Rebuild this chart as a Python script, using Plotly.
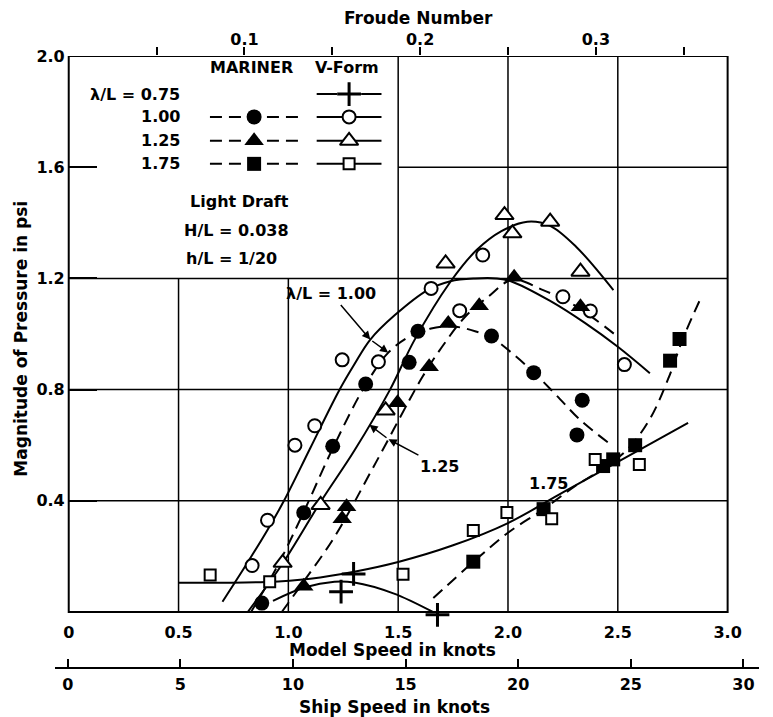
import numpy as np
import plotly.graph_objects as go

# ---------------- measured points: model speed (knots) vs pressure (psi) ----------------
# V-Form, lambda/L = 0.75
vform_075_speed = [1.24, 1.297, 1.679]
vform_075_psi = [0.073, 0.137, -0.01]

# MARINER / V-Form, lambda/L = 1.00
mariner_100_speed = [0.879, 1.07, 1.202, 1.352, 1.55, 1.59, 1.925, 2.117, 2.314, 2.338]
mariner_100_psi = [0.032, 0.357, 0.596, 0.82, 0.898, 1.01, 0.993, 0.861, 0.637, 0.762]
vform_100_speed = [0.835, 0.905, 1.03, 1.12, 1.245, 1.41, 1.65, 1.78, 1.885, 2.25, 2.375, 2.53]
vform_100_psi = [0.167, 0.33, 0.60, 0.67, 0.907, 0.90, 1.164, 1.084, 1.284, 1.134, 1.083, 0.89]

# MARINER / V-Form, lambda/L = 1.25
mariner_125_speed = [1.07, 1.245, 1.265, 1.497, 1.641, 1.728, 1.869, 2.028, 2.33]
mariner_125_psi = [0.093, 0.335, 0.379, 0.753, 0.882, 1.038, 1.102, 1.204, 1.098]
vform_125_speed = [0.974, 1.147, 1.443, 1.716, 1.984, 2.02, 2.192, 2.33]
vform_125_psi = [0.177, 0.385, 0.725, 1.254, 1.428, 1.362, 1.404, 1.224]

# MARINER / V-Form, lambda/L = 1.75
mariner_175_speed = [1.842, 2.162, 2.433, 2.479, 2.579, 2.738, 2.781]
mariner_175_psi = [0.181, 0.37, 0.525, 0.549, 0.60, 0.904, 0.982]
vform_175_speed = [0.644, 0.915, 1.522, 1.842, 1.995, 2.199, 2.397, 2.598]
vform_175_psi = [0.133, 0.109, 0.136, 0.293, 0.358, 0.335, 0.549, 0.531]

# ---------------- faired curves ----------------
fair_v075_speed = [0.93, 1.076, 1.21, 1.30, 1.478, 1.656]
fair_v075_psi = [0.04, 0.089, 0.109, 0.106, 0.067, 0.001]

fair_v100_speed = [0.70, 0.80, 0.905, 0.98, 1.10, 1.23, 1.30, 1.373, 1.485, 1.634, 1.738,
                   1.85, 1.95, 2.013, 2.19, 2.35, 2.50, 2.646]
fair_v100_psi = [0.037, 0.16, 0.295, 0.40, 0.59, 0.795, 0.89, 0.98, 1.068, 1.158, 1.19,
                 1.20, 1.20, 1.19, 1.12, 1.04, 0.954, 0.859]
fair_m100_speed = [0.83, 0.95, 1.07, 1.20, 1.35, 1.455, 1.55, 1.65, 1.75, 1.85, 1.93, 2.02,
                   2.12, 2.22, 2.33, 2.46]
fair_m100_psi = [0.0, 0.165, 0.36, 0.585, 0.815, 0.933, 0.99, 1.02, 1.027, 1.01, 0.985, 0.93,
                 0.86, 0.78, 0.69, 0.607]

fair_v125_speed = [0.815, 0.97, 1.15, 1.30, 1.463, 1.574, 1.738, 1.857, 1.97, 2.088, 2.19,
                   2.31, 2.48]
fair_v125_psi = [0.0, 0.17, 0.40, 0.58, 0.80, 0.978, 1.188, 1.302, 1.37, 1.404, 1.39,
                 1.314, 1.158]
fair_m125_speed = [0.97, 1.07, 1.21, 1.40, 1.61, 1.70, 1.805, 1.91, 2.02, 2.16, 2.31, 2.50]
fair_m125_psi = [0.0, 0.11, 0.27, 0.54, 0.845, 0.954, 1.062, 1.134, 1.195, 1.158, 1.10, 0.99]

fair_v175_speed = [0.50, 0.90, 1.10, 1.30, 1.50, 1.75, 2.0, 2.25, 2.50, 2.82]
fair_v175_psi = [0.105, 0.108, 0.12, 0.145, 0.18, 0.24, 0.32, 0.43, 0.54, 0.68]
fair_m175_speed = [1.66, 1.842, 2.0, 2.162, 2.30, 2.45, 2.55, 2.65, 2.73, 2.80, 2.884]
fair_m175_psi = [0.05, 0.18, 0.285, 0.37, 0.45, 0.525, 0.59, 0.70, 0.84, 0.99, 1.14]

# ---------------- axes ----------------
model_ticks = [0, 0.5, 1.0, 1.5, 2.0, 2.5, 3.0]
model_labels = ["0", "0.5", "1.0", "1.5", "2.0", "2.5", "3.0"]
psi_ticks = [0.4, 0.8, 1.2, 1.6, 2.0]
psi_labels = ["0.4", "0.8", "1.2", "1.6", "2.0"]
froude_ticks = [0.05, 0.10, 0.15, 0.20, 0.25, 0.30, 0.35]
froude_labels = ["", "0.1", "", "0.2", "", "0.3", ""]
ship_ticks = [0, 5, 10, 15, 20, 25, 30]
ship_labels = ["0", "5", "10", "15", "20", "25", "30"]

legend_rows = ["0.75", "1.00", "1.25", "1.75"]

FONT = "DejaVu Sans"
INK = "black"
DASH = "12px,7px"

W, H = 773, 717
M_L, M_R, M_T, M_B = 55, 0, 56, 49
PSI_RANGE = [-0.02, 2.0]          # a little room below zero for the lowest point
X_DOMAIN = [14 / 718, 686 / 718]
Y_DOMAIN = [(56 - 0.02 * 278) / 612, 1.0]

open_circle = dict(symbol="circle", size=13, color="white", line=dict(color=INK, width=2))
solid_circle = dict(symbol="circle", size=15, color=INK, line=dict(width=0))
open_tri = dict(symbol="triangle-up", size=16, color="white", line=dict(color=INK, width=2))
solid_tri = dict(symbol="triangle-up", size=17, color=INK, line=dict(width=0))
open_sq = dict(symbol="square", size=11, color="white", line=dict(color=INK, width=2))
solid_sq = dict(symbol="square", size=14, color=INK, line=dict(width=0))
cross = dict(symbol="cross-thin", size=17, color=INK, line=dict(color=INK, width=3))

fig = go.Figure()


def add_curve(xs, ys, dashed):
    fig.add_trace(go.Scatter(
        x=xs, y=ys, mode="lines",
        line=dict(color=INK, width=2, shape="spline", smoothing=1.0,
                  dash=DASH if dashed else "solid"),
        hoverinfo="skip", showlegend=False))


def add_points(xs, ys, marker):
    fig.add_trace(go.Scatter(
        x=xs, y=ys, mode="markers", marker=marker, cliponaxis=False,
        hoverinfo="skip", showlegend=False))


# faired curves
add_curve(fair_v075_speed, fair_v075_psi, False)
add_curve(fair_v100_speed, fair_v100_psi, False)
add_curve(fair_m100_speed, fair_m100_psi, True)
add_curve(fair_v125_speed, fair_v125_psi, False)
add_curve(fair_m125_speed, fair_m125_psi, True)
add_curve(fair_v175_speed, fair_v175_psi, False)
add_curve(fair_m175_speed, fair_m175_psi, True)

# measured points
add_points(vform_075_speed, vform_075_psi, cross)
add_points(mariner_100_speed, mariner_100_psi, solid_circle)
add_points(vform_100_speed, vform_100_psi, open_circle)
add_points(mariner_125_speed, mariner_125_psi, solid_tri)
add_points(vform_125_speed, vform_125_psi, open_tri)
add_points(mariner_175_speed, mariner_175_psi, solid_sq)
add_points(vform_175_speed, vform_175_psi, open_sq)

# ---------------- key block (upper left) ----------------
row_y = [1.863, 1.781, 1.695, 1.612]
mariner_span = (0.643, 1.045)
vform_span = (1.129, 1.424)
row_markers = {
    "0.75": (None, cross),
    "1.00": (solid_circle, open_circle),
    "1.25": (solid_tri, open_tri),
    "1.75": (solid_sq, open_sq),
}
for lab, yy in zip(legend_rows, row_y):
    m_mar, m_vf = row_markers[lab]
    mid_m = 0.5 * (mariner_span[0] + mariner_span[1])
    mid_v = 0.5 * (vform_span[0] + vform_span[1])
    if m_mar is not None:
        fig.add_trace(go.Scatter(x=list(mariner_span), y=[yy, yy], mode="lines",
                                 line=dict(color=INK, width=2, dash=DASH),
                                 hoverinfo="skip", showlegend=False))
        add_points([mid_m], [yy], m_mar)
    if lab == "0.75":
        for a, b in [(vform_span[0], mid_v - 0.055), (mid_v + 0.055, vform_span[1])]:
            fig.add_trace(go.Scatter(x=[a, b], y=[yy, yy], mode="lines",
                                     line=dict(color=INK, width=2),
                                     hoverinfo="skip", showlegend=False))
    else:
        fig.add_trace(go.Scatter(x=list(vform_span), y=[yy, yy], mode="lines",
                                 line=dict(color=INK, width=2),
                                 hoverinfo="skip", showlegend=False))
    add_points([mid_v], [yy], m_vf)

# dummy traces so that the Froude and ship-speed axes are drawn
fig.add_trace(go.Scatter(x=[froude_ticks[0]], y=[0], xaxis="x2", yaxis="y", mode="markers",
                         marker=dict(opacity=0), hoverinfo="skip", showlegend=False))
fig.add_trace(go.Scatter(x=[ship_ticks[0]], y=[0], xaxis="x3", yaxis="y", mode="markers",
                         marker=dict(opacity=0), hoverinfo="skip", showlegend=False))

# ---------------- grid (left upper panel kept clear for the key) ----------------
shapes = []
for gx in model_ticks[1:-1]:
    top = 1.2 if gx < 1.5 else 2.0
    shapes.append(dict(type="line", xref="x", yref="y", x0=gx, x1=gx, y0=0, y1=top,
                       line=dict(color=INK, width=1.5), layer="below"))
for gy in psi_ticks[:-1]:
    left = 1.5 if gy > 1.2 else 0.0
    shapes.append(dict(type="line", xref="x", yref="y", x0=left, x1=3.0, y0=gy, y1=gy,
                       line=dict(color=INK, width=1.5), layer="below"))
# frame of the plotting area, from zero to the top of the scale
shapes.append(dict(type="rect", xref="x domain", yref="y", x0=0, x1=1, y0=0, y1=2.0,
                   line=dict(color=INK, width=2), fillcolor="rgba(0,0,0,0)"))


def txt(text, x, y, size=16, xanchor="center", xref="x", yref="y", angle=0):
    return dict(text=text, x=x, y=y, xref=xref, yref=yref, showarrow=False,
                xanchor=xanchor, yanchor="middle", textangle=angle,
                font=dict(family=FONT, size=size, color=INK, weight="bold"))


annotations = [
    txt("MARINER", 0.830, 1.957),
    txt("V-Form", 1.268, 1.957),
    txt("Light Draft", 0.777, 1.475),
    txt("H/L = 0.038", 0.763, 1.371),
    txt("h/L = 1/20", 0.741, 1.273),
    txt("1.75", 2.183, 0.464),
]
for lab, yy in zip(legend_rows, row_y):
    annotations.append(txt(("λ/L = " if lab == "0.75" else "") + lab, 0.518, yy, xanchor="right"))


# leaders from the curve labels, arrowheads landing on the faired curves
def leader(text, tx, ty, targets):
    pts = []
    for cx, cy, xs in targets:
        pts.append((xs, float(np.interp(xs, cx, cy))))
    out = [dict(text=text, x=pts[0][0], y=pts[0][1], ax=tx, ay=ty, xref="x", yref="y",
                axref="x", ayref="y", showarrow=True, arrowhead=2, arrowsize=1.1,
                arrowwidth=1.5, arrowcolor=INK, standoff=0,
                font=dict(family=FONT, size=16, color=INK, weight="bold"))]
    for (x0, y0), (x1, y1) in zip(pts[:-1], pts[1:]):
        out.append(dict(text=" ", x=x1, y=y1, ax=x0, ay=y0, xref="x", yref="y",
                        axref="x", ayref="y", showarrow=True, arrowhead=2, arrowsize=1.1,
                        arrowwidth=1.5, arrowcolor=INK, standoff=0,
                        font=dict(size=2)))
    return out


annotations += leader("λ/L = 1.00", 1.196, 1.144,
                      [(fair_v100_speed, fair_v100_psi, 1.373),
                       (fair_m100_speed, fair_m100_psi, 1.455)])
annotations += leader("1.25", 1.687, 0.525,
                      [(fair_m125_speed, fair_m125_psi, 1.456),
                       (fair_v125_speed, fair_v125_psi, 1.369)])

# axis titles
annotations += [
    txt("Froude Number", (426 - M_L) / 718, (668 - 18) / 612, size=17, xref="paper", yref="paper"),
    txt("Model Speed in knots", (399 - M_L) / 718, (668 - 650) / 612, size=17,
        xref="paper", yref="paper"),
    txt("Ship Speed in knots", (401 - M_L) / 718, (668 - 707) / 612, size=17,
        xref="paper", yref="paper"),
    txt("Magnitude of Pressure in psi", (20 - M_L) / 718, (668 - 339) / 612, size=17,
        xref="paper", yref="paper", angle=-90),
]

tick_font = dict(family=FONT, size=16, color=INK, weight="bold")

fig.update_layout(
    width=W, height=H, autosize=False,
    margin=dict(l=M_L, r=M_R, t=M_T, b=M_B, pad=0),
    paper_bgcolor="white", plot_bgcolor="rgba(0,0,0,0)",
    showlegend=False,
    shapes=shapes, annotations=annotations,
    xaxis=dict(domain=X_DOMAIN, range=[0, 3.0], anchor="y", showgrid=False, zeroline=False,
               showline=False, ticks="", tickvals=model_ticks, ticktext=model_labels,
               tickfont=tick_font, ticklabelstandoff=3, fixedrange=True),
    xaxis2=dict(overlaying="x", side="top", anchor="y", range=[0, 0.375], showgrid=False,
                zeroline=False, showline=False, ticks="outside", ticklen=8, tickwidth=2,
                tickcolor=INK, tickvals=froude_ticks, ticktext=froude_labels,
                tickfont=tick_font, ticklabelstandoff=-4),
    xaxis3=dict(domain=[0, 1], anchor="free", position=0, side="bottom",
                range=[-0.566, 30.69], showgrid=False, zeroline=False, showline=True,
                linecolor=INK, linewidth=2, ticks="inside", ticklen=8, tickwidth=2,
                tickcolor=INK, tickvals=ship_ticks, ticktext=ship_labels,
                tickfont=tick_font, ticklabelstandoff=2),
    yaxis=dict(domain=Y_DOMAIN, range=PSI_RANGE, anchor="x", showgrid=False, zeroline=False,
               showline=False, ticks="inside", ticklen=28, tickwidth=1.5, tickcolor=INK,
               tickvals=psi_ticks, ticktext=psi_labels, tickfont=tick_font,
               ticklabelstandoff=3),
)

fig.write_html("out.html")
